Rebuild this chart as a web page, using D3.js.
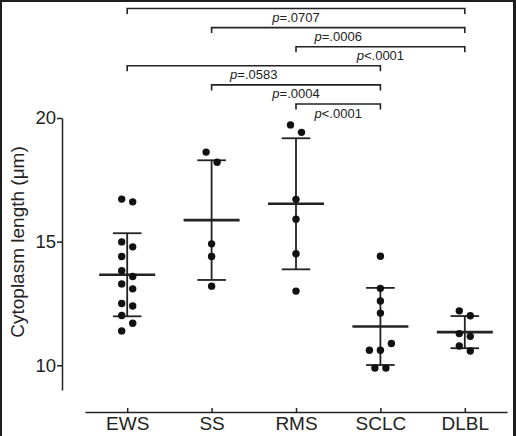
<!DOCTYPE html>
<html>
<head>
<meta charset="utf-8">
<script src="https://cdn.jsdelivr.net/npm/d3@7"></script>
<style>
  html, body { margin: 0; padding: 0; background: #fff; }
  svg { display: block; font-family: "Liberation Sans", Arial, sans-serif; }
</style>
</head>
<body>
<svg id="chart" width="516" height="436"></svg>
<script>
// ---- data ----
const categories = ["EWS", "SS", "RMS", "SCLC", "DLBL"];
const ewsValues  = [16.72, 16.61, 14.99, 14.79, 14.40, 13.82, 13.59, 13.29, 13.09, 12.50, 12.40, 12.01, 11.70, 11.39];
const ssValues   = [18.62, 18.21, 14.91, 14.40, 13.20];
const rmsValues  = [19.72, 19.42, 16.71, 15.91, 14.51, 13.00];
const sclcValues = [14.41, 13.11, 12.60, 12.11, 10.88, 10.61, 10.61, 9.89, 9.89];
const dlblValues = [12.20, 12.00, 11.28, 11.17, 10.78, 10.58];
const meanValues = [13.66, 15.87, 16.53, 11.57, 11.34];
const sdValues   = [1.68, 2.42, 2.65, 1.56, 0.65];
const yTicks = [10, 15, 20];
const yTitle = "Cytoplasm length (μm)";
const bracketFrom = ["EWS", "SS", "RMS", "EWS", "SS", "RMS"];
const bracketTo   = ["DLBL", "DLBL", "DLBL", "SCLC", "SCLC", "SCLC"];
const bracketOp   = ["=", "=", "<", "=", "=", "<"];
const bracketP    = [".0707", ".0006", ".0001", ".0583", ".0004", ".0001"];

const groups = [ewsValues, ssValues, rmsValues, sclcValues, dlblValues];

// ---- layout ----
const svg = d3.select("#chart");
const ink = "#222";

const x = d3.scalePoint().domain(categories).range([85, 507]).padding(0.5);
const y = d3.scaleLinear().domain([9, 20]).range([390, 118]);

// frame
svg.append("rect").attr("x", 0).attr("y", 0).attr("width", 516).attr("height", 2).attr("fill", "#1e1e1e");
svg.append("rect").attr("x", 0).attr("y", 0).attr("width", 2).attr("height", 436).attr("fill", "#1e1e1e");
svg.append("rect").attr("x", 513).attr("y", 0).attr("width", 3).attr("height", 436).attr("fill", "#1e1e1e");

// y axis
const yAxis = svg.append("g")
  .attr("transform", "translate(62,0)")
  .call(d3.axisLeft(y).tickValues(yTicks).tickSize(5).tickSizeOuter(0).tickPadding(1).tickFormat(d3.format("d")));
yAxis.select(".domain").attr("stroke", ink).attr("stroke-width", 1.5);
yAxis.selectAll(".tick line").attr("stroke", ink).attr("stroke-width", 1.5);
yAxis.selectAll(".tick text").attr("fill", ink).attr("font-size", 18.5).attr("font-family", "Liberation Sans, Arial, sans-serif");

// x axis
const xAxis = svg.append("g")
  .attr("transform", "translate(0,412)")
  .call(d3.axisBottom(x).tickSize(-4).tickSizeOuter(0).tickPadding(5));
xAxis.select(".domain").attr("stroke", ink).attr("stroke-width", 1.5);
xAxis.selectAll(".tick line").attr("stroke", ink).attr("stroke-width", 1.5);
xAxis.selectAll(".tick text").attr("fill", ink).attr("font-size", 19).attr("font-family", "Liberation Sans, Arial, sans-serif");

// y title
svg.append("text")
  .attr("transform", "translate(24,242) rotate(-90)")
  .attr("text-anchor", "middle")
  .attr("font-size", 19)
  .attr("fill", ink)
  .text(yTitle);

// ---- jitter layout (cluster-based, computed) ----
const step = 5.5, dotR = 3.7;
function jitter(vals) {
  const pts = vals.map(v => ({ v, py: y(v), dx: 0 }));
  const sorted = pts.slice().sort((a, b) => a.py - b.py);
  const clusters = [];
  let cur = [];
  sorted.forEach((p, i) => {
    if (i > 0 && p.py - sorted[i - 1].py >= 11) { clusters.push(cur); cur = []; }
    cur.push(p);
  });
  if (cur.length) clusters.push(cur);
  clusters.forEach(c => {
    const n = c.length;
    if (n === 1) return;
    const span = c[n - 1].py - c[0].py;
    if (n >= 3 && span < 2 * dotR + 0.5) {
      const row = c.slice().sort((a, b) => a.v - b.v);
      row.forEach((p, i) => { p.dx = (i - (n - 1) / 2) * 2 * step; });
    } else {
      c.forEach((p, i) => { p.dx = (i % 2 === 0 ? -step : step); });
    }
  });
  return pts;
}

// ---- marks ----
const plot = svg.append("g");
groups.forEach((vals, gi) => {
  const cx = x(categories[gi]);
  const m = meanValues[gi], s = sdValues[gi];
  const g = plot.append("g");
  // SD vertical
  g.append("line").attr("x1", cx).attr("x2", cx).attr("y1", y(m + s)).attr("y2", y(m - s))
    .attr("stroke", ink).attr("stroke-width", 1.8);
  // caps
  [m + s, m - s].forEach(v => {
    g.append("line").attr("x1", cx - 14.3).attr("x2", cx + 14.3).attr("y1", y(v)).attr("y2", y(v))
      .attr("stroke", ink).attr("stroke-width", 1.8);
  });
  // mean
  g.append("line").attr("x1", cx - 28).attr("x2", cx + 28).attr("y1", y(m)).attr("y2", y(m))
    .attr("stroke", ink).attr("stroke-width", 2.6);
  // dots
  g.selectAll("circle").data(jitter(vals)).join("circle")
    .attr("cx", d => cx + d.dx).attr("cy", d => d.py).attr("r", dotR).attr("fill", "#111");
});

// ---- significance brackets ----
const br = svg.append("g");
bracketFrom.forEach((from, i) => {
  const x1 = x(from), x2 = x(bracketTo[i]);
  const by = 8.5 + i * 19.1;
  br.append("path")
    .attr("d", `M${x1},${by + 5.5}V${by}H${x2}V${by + 5.5}`)
    .attr("fill", "none").attr("stroke", ink).attr("stroke-width", 1.6);
  const t = br.append("text")
    .attr("x", (x1 + x2) / 2).attr("y", by + 13.5)
    .attr("text-anchor", "middle").attr("font-size", 13).attr("fill", ink);
  t.append("tspan").attr("font-style", "italic").text("p");
  t.append("tspan").text(bracketOp[i] + bracketP[i]);
});
</script>
</body>
</html>
